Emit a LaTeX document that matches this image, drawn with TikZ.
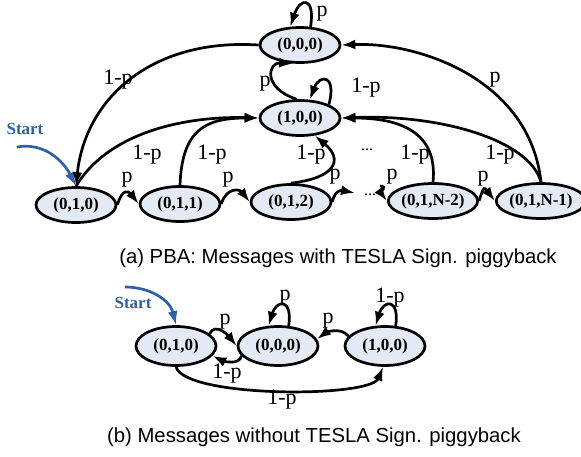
\documentclass[tikz,border=0pt]{standalone}
\usepackage{fontspec}
\setmainfont{Liberation Serif}
\setsansfont{Liberation Sans}
\usetikzlibrary{shapes.geometric,arrows.meta}
\definecolor{statefill}{RGB}{228,234,244}
\definecolor{startblue}{RGB}{46,96,168}
\tikzset{
  state/.style={ellipse,draw=black,line width=2.7pt,fill=statefill,
    minimum width=80pt,minimum height=35pt,inner sep=0pt,
    font=\fontsize{17}{17}\selectfont\bfseries},
  bstate/.style={state,minimum height=39pt},
  trans/.style={line width=2.7pt,-{Latex[length=14pt,width=10pt]}},
  startarrow/.style={line width=2.7pt,draw=startblue,-{Latex[length=14pt,width=10pt]}},
  lbl/.style={font=\fontsize{22}{22}\selectfont,inner sep=0pt},
  startlbl/.style={font=\fontsize{17}{17}\selectfont\bfseries,text=startblue,inner sep=0pt},
  dots/.style={font=\fontsize{16}{16}\selectfont,inner sep=0pt},
  caption/.style={font=\sffamily\fontsize{20.3}{20.3}\selectfont,inner sep=0pt}
}
\begin{document}
\begin{tikzpicture}[x=1pt,y=-1pt]
\useasboundingbox (0,0) rectangle (581,456);

% ---------- (a) chain of states ----------
\node[state] (z)  at (300,45)  {(0,0,0)};
\node[state] (o)  at (300,118) {(1,0,0)};
\node[state] (s0) at (76,205)  {(0,1,0)};
\node[state] (s1) at (180,204) {(0,1,1)};
\node[state] (s2) at (291,202) {(0,1,2)};
\node[state] (sm) at (433,201) {(0,1,N-2)};
\node[state] (sn) at (541,201) {(0,1,N-1)};

\coordinate (gapin)  at (355,193);
\coordinate (gapout) at (380,186);
\node[dots] (d1) at (367,150) {...};
\node[dots] (d2) at (370,195) {...};

% start marker
\node[startlbl] (st) at (25,129) {Start};
\coordinate (stfrom) at (17,147);
\draw[startarrow] (stfrom) .. controls (45,142) and (64,162) .. (s0.north);

% forward chain
\draw[trans] (s0.east) .. controls +(5,-17) and +(-10,-13) .. (s1.west);
\draw[trans] (s1.east) .. controls +(5,-17) and +(-10,-13) .. (s2.west);
\draw[trans] (s2.east) .. controls +(3,-15) and +(-10,-2) .. (gapin);
\draw[trans] (gapout) .. controls +(8,0) and +(-6,-8) .. (sm.west);
\draw[trans] (sm.east) .. controls +(5,-17) and +(-10,-13) .. (sn.west);
\node[lbl] (p1) at (127,180) {p};
\node[lbl] (p2) at (228,180) {p};
\node[lbl] (p3) at (335,177) {p};
\node[lbl] (p4) at (392,177) {p};
\node[lbl] (p5) at (483,179) {p};

% returns to (1,0,0)
\draw[trans] (s0.north) .. controls (110,130) and (190,116) .. (o.west);
\draw[trans] (s1.north) .. controls (182,130) and (205,118) .. (o.west);
\draw[trans] (s2.north) .. controls (335,178) and (344,160) .. (o.-50);
\draw[trans] (sm.north) .. controls (438,132) and (400,118) .. (o.east);
\draw[trans] (sn.north) .. controls (530,140) and (440,114) .. (o.east);
\node[lbl] (q1) at (147,155) {1-p};
\node[lbl] (q2) at (212,155) {1-p};
\node[lbl] (q3) at (311,155) {1-p};
\node[lbl] (q4) at (415,155) {1-p};
\node[lbl] (q5) at (500,155) {1-p};

% edges touching (0,0,0)
\draw[trans] (z.west) .. controls (150,38) and (85,100) .. (s0.north);
\draw[trans] (sn.north) .. controls (530,80) and (420,42) .. (z.east);
\draw[trans] (o.100) .. controls (262,88) and (268,62) .. (z.-110);
\node[lbl] (q6) at (118,80) {1-p};
\node[lbl] (p6) at (495,80) {p};
\node[lbl] (p7) at (265,84) {p};

% self loops
\draw[trans] (z.60) .. controls +(5,-30) and +(10,-30) .. (z.118);
\draw[trans] (o.25) .. controls +(8,-30) and +(10,-26) .. (o.62);
\node[lbl] (p8) at (322,14) {p};
\node[lbl] (q7) at (366,88) {1-p};

\node[caption] (capa) at (338,258) {(a) PBA: Messages with TESLA Sign. piggyback};

% ---------- (b) three states ----------
\node[bstate] (b0) at (176,346) {(0,1,0)};
\node[bstate] (bz) at (278,346) {(0,0,0)};
\node[bstate] (bo) at (385,346) {(1,0,0)};

\node[startlbl] (bst) at (133,303) {Start};
\coordinate (bstfrom) at (125,287);
\draw[startarrow] (bstfrom) .. controls (150,287) and (170,300) .. (b0.north);

\draw[trans] (b0.20) .. controls +(6,-12) and +(-8,-10) .. (bz.west);
\draw[trans] (bz.-165) .. controls +(-2,10) and +(10,5) .. (b0.-15);
\draw[trans] (bz.62) .. controls +(4,-28) and +(8,-26) .. (bz.115);
\draw[trans] (bo.165) .. controls +(-8,-10) and +(8,-6) .. (bz.10);
\draw[trans] (bo.62) .. controls +(4,-28) and +(8,-26) .. (bo.115);
\draw[trans] (b0.south) .. controls (185,398) and (370,398) .. (bo.-95);

\node[lbl] (bp1) at (225,322) {p};
\node[lbl] (bq1) at (227,374) {1-p};
\node[lbl] (bp2) at (285,298) {p};
\node[lbl] (bp3) at (328,321) {p};
\node[lbl] (bq2) at (390,298) {1-p};
\node[lbl] (bq3) at (282,400) {1-p};

\node[caption] (capb) at (314,437) {(b) Messages without TESLA Sign. piggyback};
\end{tikzpicture}
\end{document}
